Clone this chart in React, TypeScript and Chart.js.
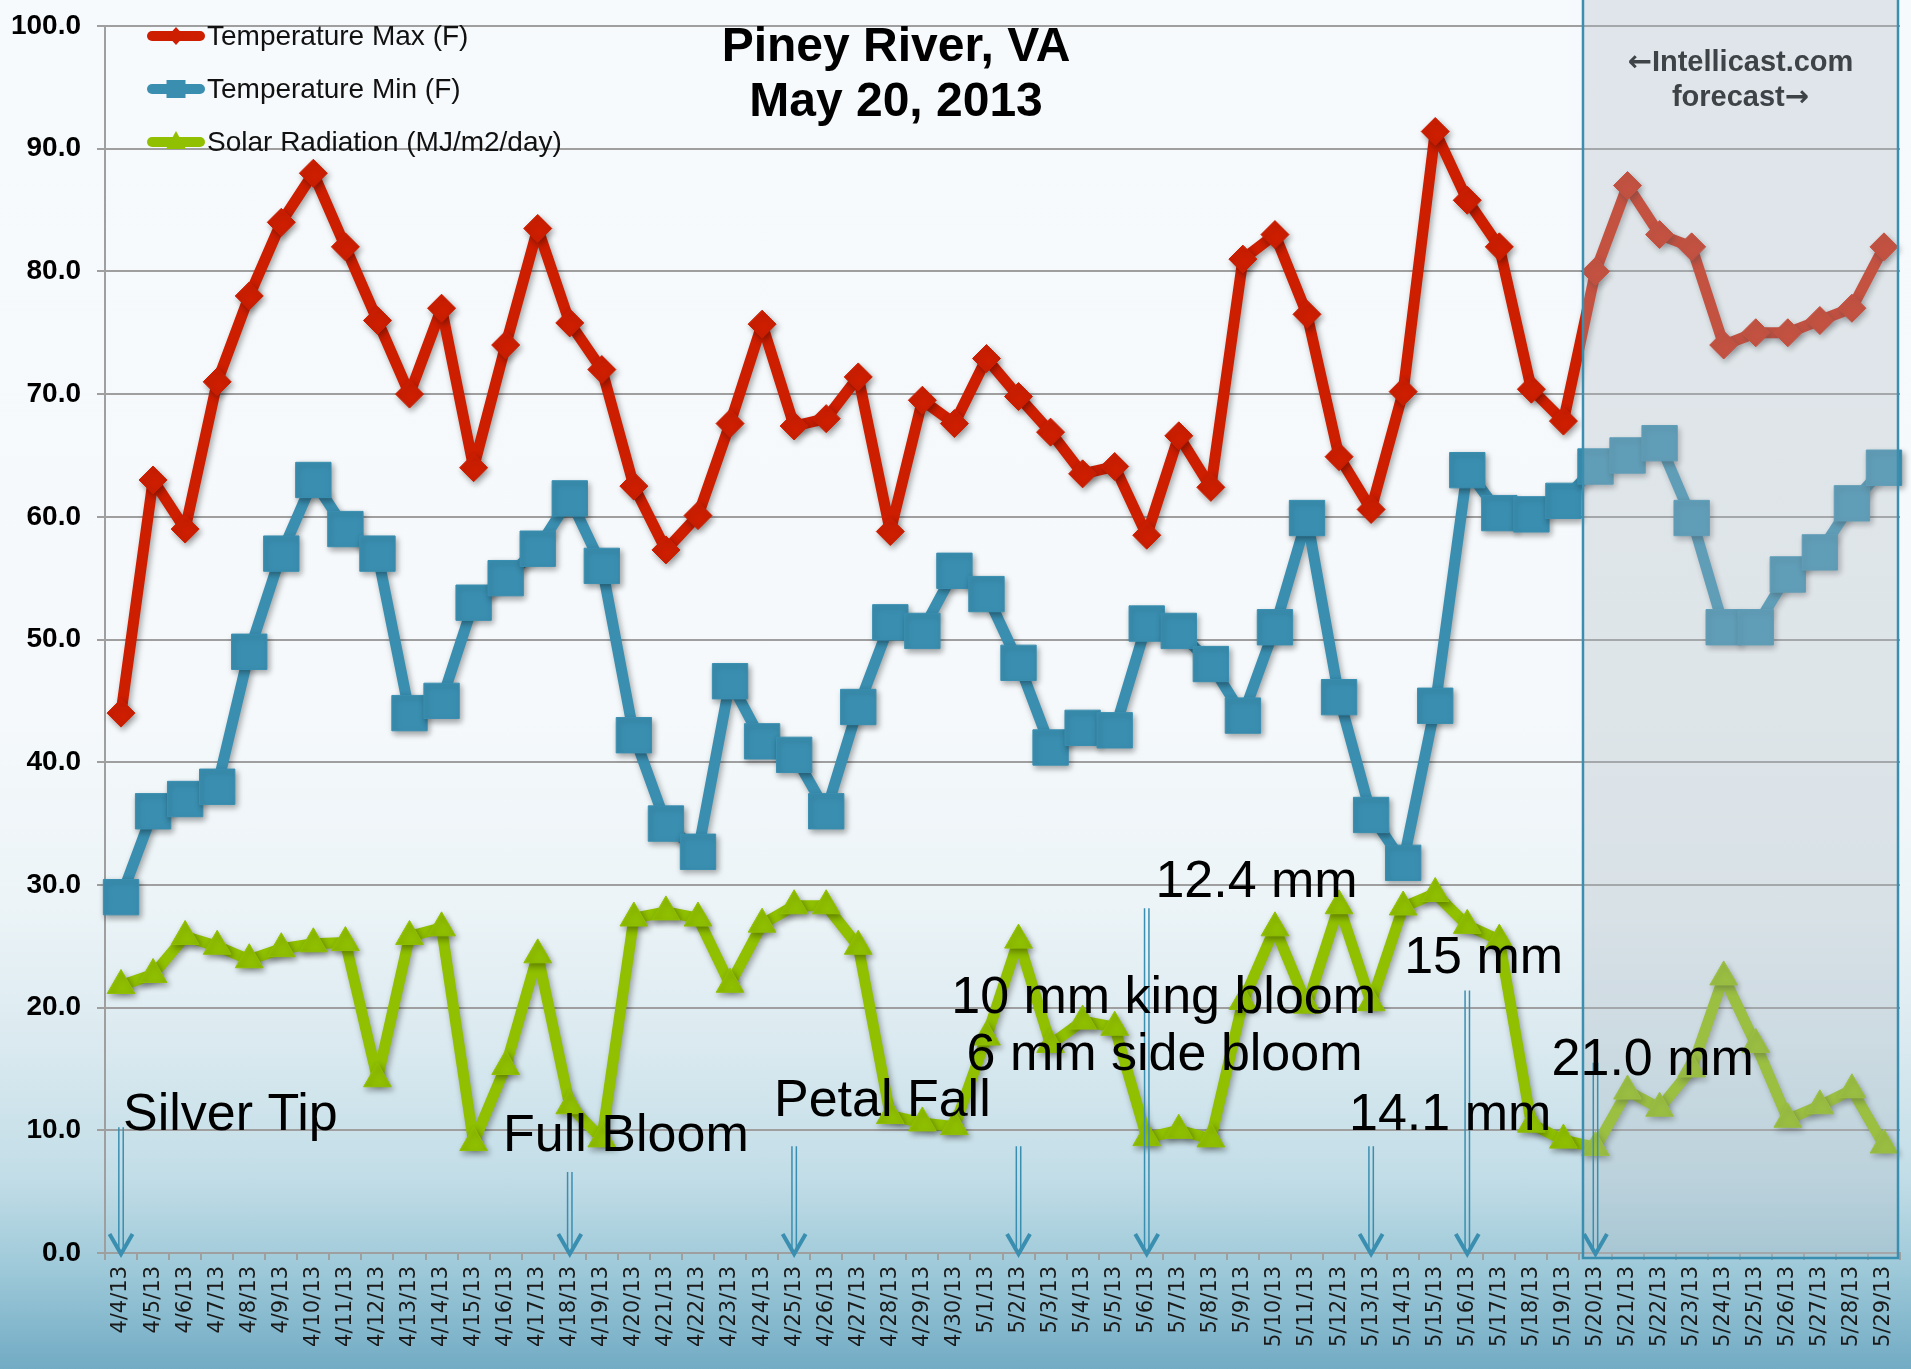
import React, { useEffect, useRef } from 'react';
import { Chart, registerables } from 'chart.js';

Chart.register(...registerables);

const categories = [
  '4/4/13', '4/5/13', '4/6/13', '4/7/13', '4/8/13', '4/9/13', '4/10/13', '4/11/13', '4/12/13', '4/13/13',
  '4/14/13', '4/15/13', '4/16/13', '4/17/13', '4/18/13', '4/19/13', '4/20/13', '4/21/13', '4/22/13', '4/23/13',
  '4/24/13', '4/25/13', '4/26/13', '4/27/13', '4/28/13', '4/29/13', '4/30/13', '5/1/13', '5/2/13', '5/3/13',
  '5/4/13', '5/5/13', '5/6/13', '5/7/13', '5/8/13', '5/9/13', '5/10/13', '5/11/13', '5/12/13', '5/13/13',
  '5/14/13', '5/15/13', '5/16/13', '5/17/13', '5/18/13', '5/19/13', '5/20/13', '5/21/13', '5/22/13', '5/23/13',
  '5/24/13', '5/25/13', '5/26/13', '5/27/13', '5/28/13', '5/29/13',
];

const tempMax = [
  44, 63, 59, 71, 78, 84, 88, 82, 76, 70,
  77, 64, 74, 83.5, 75.8, 72, 62.5, 57.3, 60.1, 67.6,
  75.7, 67.4, 68, 71.4, 58.8, 69.5, 67.6, 72.9, 69.8, 66.9,
  63.5, 64.1, 58.5, 66.6, 62.4, 81, 83, 76.5, 64.9, 60.6,
  70.2, 91.4, 85.8, 82, 70.4, 67.8, 80, 87, 83, 82,
  74, 75, 75, 76, 77, 82,
];

const tempMin = [
  29, 36, 37, 38, 49, 57, 63, 59, 57, 44,
  45, 53, 55, 57.4, 61.5, 56, 42.2, 35, 32.7, 46.6,
  41.7, 40.6, 36, 44.5, 51.4, 50.7, 55.6, 53.7, 48.1, 41.2,
  42.8, 42.6, 51.3, 50.7, 48, 43.8, 51, 59.9, 45.3, 35.7,
  31.8, 44.6, 63.8, 60.3, 60.2, 61.3, 64.1, 65, 66, 59.9,
  51, 51, 55.3, 57.1, 61.1, 64,
];

const solarRad = [
  21.8, 22.7, 25.8, 25, 23.9, 24.8, 25.2, 25.3, 14.2, 25.8,
  26.5, 9, 15.2, 24.3, 12, 9.3, 27.3, 27.8, 27.3, 21.9,
  26.8, 28.3, 28.3, 25, 11.2, 10.6, 10.3, 17.6, 25.5, 17,
  18.9, 18.4, 9.4, 10, 9.3, 20.5, 26.5, 20.2, 28.3, 20.4,
  28.2, 29.3, 26.7, 25.5, 10.5, 9.2, 8.6, 13.2, 11.8, 15,
  22.5, 17, 10.9, 12, 13.3, 8.8,
];

const yTicks = [0, 10, 20, 30, 40, 50, 60, 70, 80, 90, 100];

const seriesNames = ['Temperature Max (F)', 'Temperature Min (F)', 'Solar Radiation (MJ/m2/day)'];
const seriesColors = ['#cd1e00', '#3a8fb1', '#90c000'];
const seriesMarkers = ['rectRot', 'rect', 'triangle'];

const titleLines = ['Piney River, VA', 'May 20, 2013'];
const forecastLines = [['\u2190', 'Intellicast.com'], ['forecast', '\u2192']];
const forecastStart = '5/20/13';

// text notes placed in data space: fractional category index + value
const notes = [
  { text: 'Silver Tip', idx: 0.06, value: 11.2 },
  { text: 'Full Bloom', idx: 11.92, value: 9.5 },
  { text: 'Petal Fall', idx: 20.37, value: 12.3 },
  { text: '10 mm king bloom', idx: 25.9, value: 20.7 },
  { text: '6 mm side bloom', idx: 26.38, value: 16.1 },
  { text: '12.4 mm', idx: 32.27, value: 30.2 },
  { text: '15 mm', idx: 40.03, value: 24.0 },
  { text: '14.1 mm', idx: 38.31, value: 11.2 },
  { text: '21.0 mm', idx: 44.63, value: 15.7 },
];

// stage arrows: category and value of arrow's top
const arrowCats = ['4/4/13', '4/18/13', '4/25/13', '5/2/13', '5/6/13', '5/13/13', '5/16/13', '5/20/13'];
const arrowTops = [10.25, 6.6, 8.7, 8.7, 28.1, 8.7, 21.4, 15.5];

const SANS = "'Liberation Sans', Arial, sans-serif";
const ARROWFONT = "'DejaVu Sans', sans-serif";
const GRID = '#9f9f9f';
const ARROW = '#3a8fb1';
const PAGE_W = 1911;
const PAGE_H = 1369;
const CANVAS_W = 1926;

function drawMixed(ctx: any, parts: string[], fonts: string[], cx: number, y: number) {
  const widths = parts.map((p, i) => {
    ctx.font = fonts[i];
    return ctx.measureText(p).width;
  });
  let x = cx - widths.reduce((a, b) => a + b, 0) / 2;
  parts.forEach((p, i) => {
    ctx.font = fonts[i];
    ctx.fillText(p, x, y);
    x += widths[i];
  });
}

const overlayPlugin = {
  id: 'overlayPlugin',
  beforeDatasetsDraw(chart: any) {
    const ctx = chart.ctx;
    ctx.save();
    ctx.shadowColor = 'rgba(0,0,0,0.35)';
    ctx.shadowBlur = 6;
    ctx.shadowOffsetX = 2;
    ctx.shadowOffsetY = 3;
  },
  afterDatasetsDraw(chart: any) {
    const ctx = chart.ctx;
    ctx.restore();
    const xs = chart.scales.x;
    const ys = chart.scales.y;
    const area = chart.chartArea;

    // forecast box
    const fIdx = categories.indexOf(forecastStart);
    const bx0 = xs.getPixelForValue(fIdx - 0.39);
    const bx1 = area.right - 2;
    const by0 = 0;
    const by1 = ys.getPixelForValue(0) + 5;
    ctx.save();
    ctx.fillStyle = 'rgba(176,188,196,0.33)';
    ctx.fillRect(bx0, by0, bx1 - bx0, by1 - by0);
    ctx.strokeStyle = ARROW;
    ctx.lineWidth = 2.5;
    ctx.strokeRect(bx0, by0 - 5, bx1 - bx0, by1 - by0 + 5);
    ctx.restore();

    // arrows
    ctx.save();
    ctx.strokeStyle = ARROW;
    arrowCats.forEach((c, i) => {
      const x = xs.getPixelForValue(categories.indexOf(c));
      const yTop = ys.getPixelForValue(arrowTops[i]);
      const yTip = ys.getPixelForValue(0) + 2;
      ctx.lineWidth = 1.5;
      ctx.beginPath();
      ctx.moveTo(x - 2.2, yTop);
      ctx.lineTo(x - 2.2, yTip - 6);
      ctx.moveTo(x + 2.2, yTop);
      ctx.lineTo(x + 2.2, yTip - 6);
      ctx.stroke();
      ctx.lineWidth = 4;
      ctx.lineJoin = 'miter';
      ctx.beginPath();
      ctx.moveTo(x - 11.5, yTip - 21);
      ctx.lineTo(x, yTip - 1);
      ctx.lineTo(x + 11.5, yTip - 21);
      ctx.stroke();
    });
    ctx.restore();

    // notes
    ctx.save();
    ctx.fillStyle = '#000';
    ctx.font = `52px ${SANS}`;
    ctx.textAlign = 'left';
    ctx.textBaseline = 'middle';
    notes.forEach((n) => {
      ctx.fillText(n.text, xs.getPixelForValue(n.idx), ys.getPixelForValue(n.value));
    });
    ctx.restore();

    // title
    ctx.save();
    ctx.fillStyle = '#000';
    ctx.font = `bold 48px ${SANS}`;
    ctx.textAlign = 'center';
    ctx.textBaseline = 'middle';
    ctx.fillText(titleLines[0], 896, 48);
    ctx.fillText(titleLines[1], 896, 103);
    ctx.restore();

    // forecast label
    ctx.save();
    ctx.fillStyle = '#3d4347';
    ctx.textAlign = 'left';
    ctx.textBaseline = 'middle';
    const cx = (bx0 + bx1) / 2;
    const tf = `bold 29px ${SANS}`;
    const af = `bold 29px ${ARROWFONT}`;
    drawMixed(ctx, forecastLines[0], [af, tf], cx, 63);
    drawMixed(ctx, forecastLines[1], [tf, af], cx, 98);
    ctx.restore();

    // legend
    ctx.save();
    const ly = [36, 89, 142];
    seriesNames.forEach((name, i) => {
      const y = ly[i];
      const col = seriesColors[i];
      ctx.strokeStyle = col;
      ctx.fillStyle = col;
      ctx.lineWidth = 10;
      ctx.lineCap = 'round';
      ctx.beginPath();
      ctx.moveTo(152, y);
      ctx.lineTo(200, y);
      ctx.stroke();
      const mx = 176;
      ctx.beginPath();
      if (seriesMarkers[i] === 'rectRot') {
        ctx.moveTo(mx, y - 9);
        ctx.lineTo(mx + 8, y);
        ctx.lineTo(mx, y + 9);
        ctx.lineTo(mx - 8, y);
      } else if (seriesMarkers[i] === 'rect') {
        ctx.rect(mx - 9.5, y - 9, 19, 18);
      } else {
        ctx.moveTo(mx, y - 11);
        ctx.lineTo(mx + 10, y + 7);
        ctx.lineTo(mx - 10, y + 7);
      }
      ctx.closePath();
      ctx.fill();
      ctx.fillStyle = '#111';
      ctx.font = `28px ${SANS}`;
      ctx.textAlign = 'left';
      ctx.textBaseline = 'middle';
      ctx.fillText(name, 207, y + 1);
    });
    ctx.restore();
  },
};

export default function App() {
  const ref = useRef<HTMLCanvasElement | null>(null);

  useEffect(() => {
    if (!ref.current) return;
    const mk = (i: number, data: number[], radius: number) => ({
      label: seriesNames[i],
      data,
      borderColor: seriesColors[i],
      backgroundColor: seriesColors[i],
      borderWidth: 11,
      borderJoinStyle: 'round' as const,
      borderCapStyle: 'round' as const,
      pointStyle: seriesMarkers[i] as any,
      pointRadius: radius,
      pointBorderWidth: 1,
      pointBackgroundColor: seriesColors[i],
      pointBorderColor: seriesColors[i],
      tension: 0,
      fill: false,
    });
    const chart = new Chart(ref.current, {
      type: 'line',
      data: {
        labels: categories,
        datasets: [mk(0, tempMax, 14), mk(1, tempMin, 25), mk(2, solarRad, 16)],
      },
      options: {
        animation: false,
        responsive: false,
        maintainAspectRatio: false,
        layout: { padding: { top: 24, right: 11, left: 0, bottom: 0 } },
        plugins: {
          legend: { display: false },
          title: { display: false },
          tooltip: { enabled: false },
        },
        scales: {
          x: {
            type: 'category',
            offset: true,
            grid: {
              display: true,
              drawOnChartArea: false,
              drawTicks: true,
              tickLength: 7,
              color: GRID,
              lineWidth: 2,
              offset: true,
            },
            border: { display: true, color: GRID, width: 2 },
            ticks: {
              autoSkip: false,
              maxRotation: 90,
              minRotation: 90,
              padding: 6,
              color: '#1a1a1a',
              font: { family: "'DejaVu Sans', sans-serif", size: 21 },
            },
            afterFit: (s: any) => {
              s.height = 116;
              s.paddingLeft = 0;
              s.paddingRight = 0;
            },
          },
          y: {
            min: 0,
            max: 100,
            afterBuildTicks: (s: any) => {
              s.ticks = yTicks.map((v) => ({ value: v }));
            },
            ticks: {
              padding: 16,
              color: '#000',
              font: { family: SANS, size: 28, weight: 'bold' },
              callback: (v: any) => Number(v).toFixed(1),
            },
            grid: { color: GRID, lineWidth: 2, tickLength: 8 },
            border: { display: true, color: GRID, width: 2 },
            afterFit: (s: any) => {
              s.width = 105;
              s.paddingTop = 0;
              s.paddingBottom = 0;
            },
          },
        },
      },
      plugins: [overlayPlugin],
    });
    return () => chart.destroy();
  }, []);

  return (
    <div
      style={{
        position: 'fixed',
        left: 0,
        top: 0,
        width: PAGE_W,
        height: PAGE_H,
        overflow: 'hidden',
        background:
          'linear-gradient(180deg, #f7fafc 0%, #f5f9fb 52%, #ecf4f7 66%, #dbeaf0 76%, #c2dde7 86%, #9cc8d8 93%, #72abc4 100%)',
      }}
    >
      <canvas ref={ref} width={CANVAS_W} height={PAGE_H} style={{ display: 'block' }} />
    </div>
  );
}
